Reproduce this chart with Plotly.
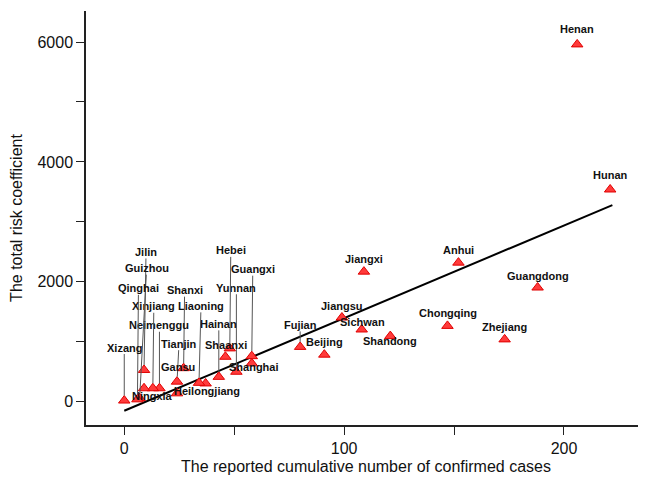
import plotly.graph_objects as go

provinces = ["Henan", "Hunan", "Anhui", "Guangdong", "Jiangxi", "Zhejiang", "Chongqing",
             "Shandong", "Sichwan", "Jiangsu", "Beijing", "Fujian", "Shanghai", "Guangxi",
             "Yunnan", "Hebei", "Shaanxi", "Hainan", "Heilongjiang", "Liaoning", "Shanxi",
             "Tianjin", "Gansu", "Neimenggu", "Xinjiang", "Ningxia", "Jilin", "Guizhou",
             "Qinghai", "Xizang"]
cases = [206, 221, 152, 188, 109, 173, 147,
         121, 108, 99, 91, 80, 58, 58,
         51, 48, 46, 43, 37, 34, 27,
         24, 24, 16, 13, 9, 9, 7,
         6, 0]
risk = [5960, 3540, 2320, 1905, 2170, 1040, 1265,
        1095, 1205, 1405, 785, 915, 640, 760,
        500, 890, 750, 415, 305, 315, 560,
        335, 140, 225, 225, 225, 530, 60,
        40, 20]

# fitted trend line endpoints
trend_x = [0, 222]
trend_y = [-150, 3280]

x_ticks = [0, 50, 100, 150, 200]
x_ticktext = ["0", "", "100", "", "200"]
y_ticks = [0, 1000, 2000, 3000, 4000, 5000, 6000]
y_ticktext = ["0", "", "2000", "", "4000", "", "6000"]

# label placement (pixel offsets from the marker) and whether a leader line is drawn
label_layout = {
    "Henan": (0, -15, False), "Hunan": (0, -14, False), "Anhui": (0, -13, False),
    "Guangdong": (0, -12, False), "Jiangxi": (0, -13, False), "Zhejiang": (0, -12, False),
    "Chongqing": (1, -13, False), "Shandong": (0, 5, False), "Sichwan": (1, -7, False),
    "Jiangsu": (0, -12, False), "Beijing": (0, -13, False), "Fujian": (0, -22, True),
    "Shanghai": (2, 4, False), "Guangxi": (1, -87, True), "Yunnan": (0, -84, True),
    "Hebei": (1, -98, True), "Shaanxi": (1, -12, False), "Hainan": (0, -53, True),
    "Heilongjiang": (1, 8, False), "Liaoning": (2, -77, True), "Shanxi": (1, -78, True),
    "Tianjin": (2, -38, True), "Gansu": (1, -26, False), "Neimenggu": (0, -63, True),
    "Xinjiang": (1, -82, True), "Ningxia": (8, 8, False), "Jilin": (2, -118, True),
    "Guizhou": (7, -130, True), "Qinghai": (1, -111, True), "Xizang": (0, -53, True),
}

FONT = "Liberation Sans, Arial, sans-serif"

fig = go.Figure()
fig.add_trace(go.Scatter(
    x=trend_x, y=trend_y, mode="lines",
    line=dict(color="black", width=2), showlegend=False, hoverinfo="skip"))
fig.add_trace(go.Scatter(
    x=cases, y=risk, mode="markers",
    marker=dict(symbol="triangle-up", size=10, color="#ff3b3b",
                line=dict(color="#e00000", width=1)),
    showlegend=False, text=provinces))

annotations = []
for name, cx, cy in zip(provinces, cases, risk):
    ax, ay, leader = label_layout[name]
    annotations.append(dict(
        x=cx, y=cy, xref="x", yref="y", text="<b>%s</b>" % name,
        showarrow=True, ax=ax, ay=ay, arrowhead=0, arrowwidth=1,
        arrowcolor="#555555" if leader else "rgba(0,0,0,0)",
        standoff=5, borderpad=0,
        font=dict(family=FONT, size=11, color="#111111")))

# the page body adds an 8px offset, so the figure is sized to compensate
fig.update_layout(
    width=638, height=477,
    margin=dict(l=78, r=0, t=3, b=60),
    plot_bgcolor="white", paper_bgcolor="white",
    font=dict(family=FONT, size=16, color="#111111"),
    annotations=annotations,
    xaxis=dict(range=[-17.4, 237.3], tickvals=x_ticks, ticktext=x_ticktext,
               ticks="outside", ticklen=8, tickwidth=1, tickcolor="#222",
               showline=True, linecolor="#222", linewidth=1.5,
               showgrid=False, zeroline=False, automargin=False,
               title=dict(text="The reported cumulative number of confirmed cases",
                          font=dict(size=16), standoff=5)),
    yaxis=dict(range=[-388, 6517], tickvals=y_ticks, ticktext=y_ticktext,
               ticks="outside", ticklen=8, tickwidth=1, tickcolor="#222",
               showline=True, linecolor="#222", linewidth=1.5,
               showgrid=False, zeroline=False, automargin=False,
               title=dict(text="The total risk coefficient", font=dict(size=16),
                          standoff=16)),
)

fig.write_html("out.html")
